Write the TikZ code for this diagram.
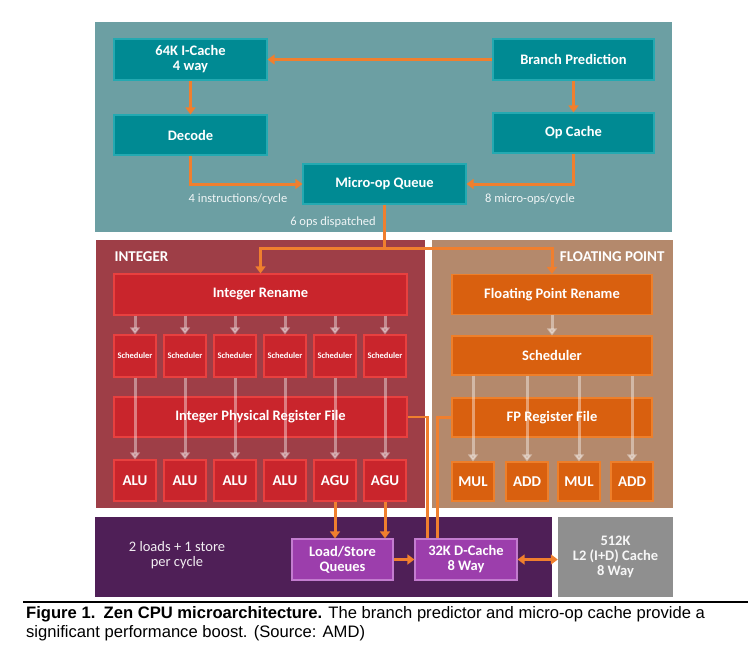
\documentclass[tikz,border=0pt]{standalone}
\usepackage{fontspec}
\setmainfont{Carlito}
\newfontfamily\capfont{Liberation Sans}
\usetikzlibrary{arrows.meta}
\definecolor{tealbg}{HTML}{6C9FA3}
\definecolor{tealbox}{HTML}{008A93}
\definecolor{tealedge}{HTML}{24A9B1}
\definecolor{intbg}{HTML}{9E3E47}
\definecolor{intbox}{HTML}{C9252C}
\definecolor{intedge}{HTML}{E8403F}
\definecolor{fpbg}{HTML}{B4896C}
\definecolor{fpbox}{HTML}{D9600F}
\definecolor{fpedge}{HTML}{EE7F2A}
\definecolor{lsbg}{HTML}{4F1F57}
\definecolor{lsbox}{HTML}{9C3EAC}
\definecolor{lsedge}{HTML}{C37CCF}
\definecolor{l2bg}{HTML}{8F8F8F}
\definecolor{wire}{HTML}{F07F2E}
\begin{document}
\begin{tikzpicture}
[x=1pt,y=-1pt]
\tikzstyle{blk}=[rectangle, inner sep=0pt, text=white, align=center, line width=1.2pt, font=\bfseries\fontsize{14.5}{15}\selectfont]
\tikzstyle{feblk}=[blk, fill=tealbox, draw=tealedge]
\tikzstyle{intblk}=[blk, fill=intbox, draw=intedge]
\tikzstyle{fpblk}=[blk, fill=fpbox, draw=fpedge]
\tikzstyle{lsblk}=[blk, fill=lsbox, draw=lsedge]
\tikzstyle{unit}=[minimum width=42pt, minimum height=41pt, font=\bfseries\fontsize{15}{16}\selectfont]
\tikzstyle{note}=[text=white!90!tealbg, font=\fontsize{12.5}{14}\selectfont]
\tikzstyle{oline}=[draw=wire, line width=3pt]
\tikzstyle{oarr}=[oline, -{Triangle[length=7pt,width=10pt]}]
\tikzstyle{garr}=[draw=white, opacity=0.4, line width=3pt, -{Triangle[length=7pt,width=10pt]}]
\useasboundingbox (0,0) rectangle (755,651);
% panels
\fill[tealbg] (95,22) rectangle (672,232);
\fill[intbg] (96,240) rectangle (425,508);
\fill[fpbg] (432,240) rectangle (673,508);
\fill[lsbg] (95,517) rectangle (552,597);
\node[rectangle, fill=l2bg, minimum width=115pt, minimum height=80pt, text=white!92!l2bg, align=center,
  font=\bfseries\fontsize{14.5}{15}\selectfont] (l2) at (615.5,557) {512K\\L2 (I+D) Cache\\8 Way};
\node[anchor=west, text=white, font=\bfseries\fontsize{15}{16}\selectfont] (intlbl) at (111,257) {INTEGER};
\node[anchor=east, text=white, font=\bfseries\fontsize{15}{16}\selectfont] (fplbl) at (668,257) {FLOATING POINT};
\node[text=white!92!lsbg, align=center, font=\fontsize{14.5}{15}\selectfont] (lsnote) at (177,555) {2 loads + 1 store\\per cycle};
% front end
\node[feblk, minimum width=153pt, minimum height=41pt] (icache) at (190.5,59.5) {64K I-Cache\\4 way};
\node[feblk, minimum width=153pt, minimum height=40pt] (decode) at (190.5,135) {Decode};
\node[feblk, minimum width=161pt, minimum height=41pt] (bpred) at (573.5,59.5) {Branch Prediction};
\node[feblk, minimum width=161pt, minimum height=40pt] (opcache) at (573.5,133) {Op Cache};
\node[feblk, minimum width=163pt, minimum height=40pt] (uopq) at (384.5,184) {Micro-op Queue};
\node[note] (n4) at (238,199) {4 instructions/cycle};
\node[note] (n8) at (530,199) {8 micro-ops/cycle};
\node[note] (n6) at (333,222) {6 ops dispatched};
% integer
\node[intblk, minimum width=293pt, minimum height=41pt] (intren) at (260.5,294.5) {Integer Rename};
\node[intblk, minimum width=293pt, minimum height=40pt] (intprf) at (260.5,417) {Integer Physical Register File};
\foreach \i/\u in {1/ALU,2/ALU,3/ALU,4/ALU,5/AGU,6/AGU} {
  \node[intblk, minimum width=42pt, minimum height=42pt, font=\bfseries\fontsize{8.5}{9}\selectfont]
    (sch\i) at (85+50*\i,356) {Scheduler};
  \node[intblk, unit] (alu\i) at (85+50*\i,480.5) {\u};
}
% floating point
\node[fpblk, minimum width=200pt, minimum height=40pt] (fpren) at (552,294.5) {Floating Point Rename};
\node[fpblk, minimum width=200pt, minimum height=39pt] (fpsch) at (552,355.5) {Scheduler};
\node[fpblk, minimum width=200pt, minimum height=39pt] (fpprf) at (552,417.5) {FP Register File};
\foreach \i/\x/\u in {1/473/MUL,2/527/ADD,3/579/MUL,4/632/ADD}
  \node[fpblk, unit, minimum height=39pt] (fpu\i) at (\x,481.5) {\u};
% load/store
\node[lsblk, minimum width=101pt, minimum height=41pt] (lsq) at (342.5,559.5) {Load/Store\\Queues};
\node[lsblk, minimum width=102pt, minimum height=41pt] (dcache) at (466,559.5) {32K D-Cache\\8 Way};
% orange wires
\draw[oarr] (bpred) -- (icache);
\draw[oarr] (icache) -- (decode);
\draw[oarr] (bpred) -- (opcache);
\draw[oarr] (decode.south) |- (uopq.west);
\draw[oarr] (opcache.south) |- (uopq.east);
\coordinate (disp) at (384.5,248);
\draw[oline] (uopq.south) -- (disp);
\draw[oarr] (disp) -| (intren.north);
\draw[oarr] (disp) -| (fpren.north);
\draw[oarr] (alu5.south) -- (alu5.south |- lsq.north);
\draw[oarr] (alu6.south) -- (alu6.south |- lsq.north);
\draw[oarr] (lsq) -- (dcache);
\draw[draw=wire, line width=2.5pt] (intprf.east) -| ([xshift=13pt]dcache.north west);
\draw[draw=wire, line width=2.5pt] (fpprf.west) -| ([xshift=23pt]dcache.north west);
\draw[oline, {Triangle[length=7pt,width=10pt]}-{Triangle[length=7pt,width=10pt]}] (dcache.east) -- (dcache.east -| l2.west);
% grey arrows
\foreach \i in {1,...,6} {
  \draw[garr] (intren.south -| sch\i) -- (sch\i.north);
  \draw[garr] (sch\i.south) -- (alu\i.north);
}
\draw[garr] (fpren) -- (fpsch);
\foreach \i in {1,...,4}
  \draw[garr] (fpsch.south -| fpu\i) -- (fpu\i.north);
% caption
\draw[line width=1.6pt] (23,602) -- (748,602);
\node[anchor=north west, align=left, inner sep=0pt, font=\capfont\fontsize{16.6}{19}\selectfont] (cap) at (26,606)
  {\textbf{Figure 1.\enspace Zen CPU microarchitecture.} The branch predictor and micro-op cache provide a\\
   significant performance boost. (Source: AMD)};
\end{tikzpicture}
\end{document}
